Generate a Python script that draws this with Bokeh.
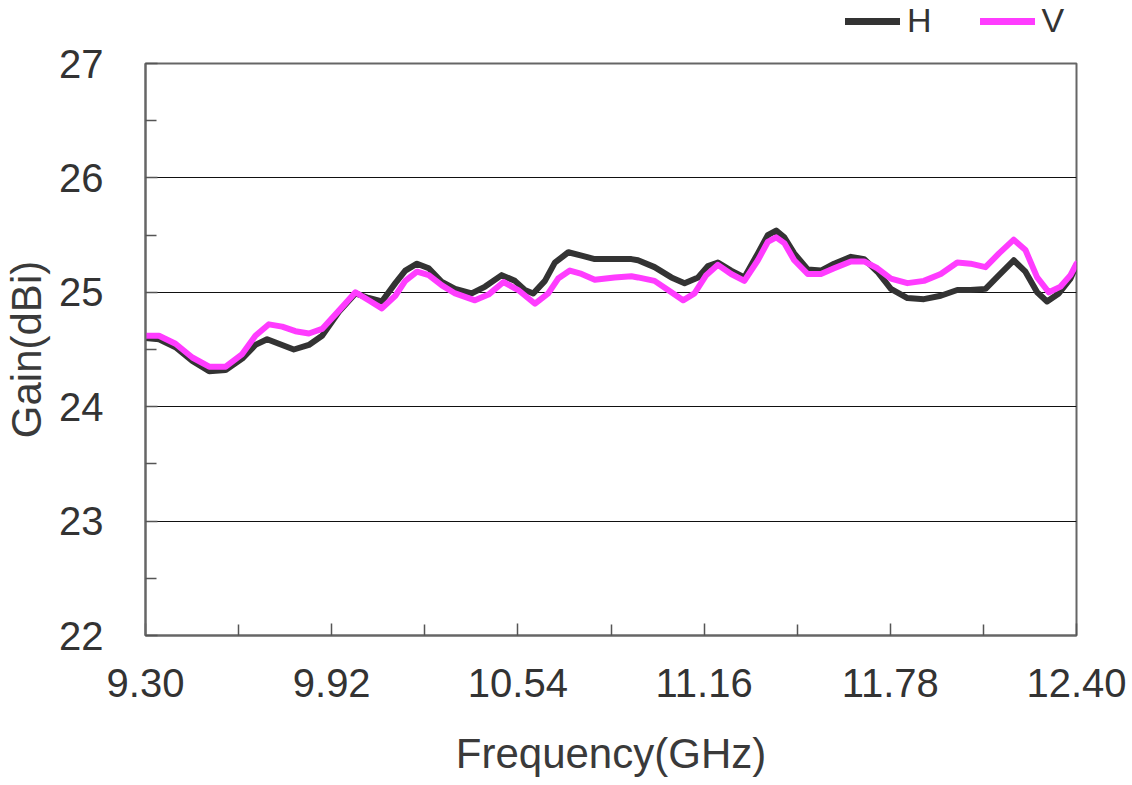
from bokeh.plotting import figure
from bokeh.models import FixedTicker, Legend, LegendItem, Range1d
from bokeh.layouts import column
from bokeh.embed import file_html
from bokeh.resources import INLINE

# ---- data ----
freq_h = [9.300, 9.345, 9.400, 9.456, 9.512, 9.567, 9.622, 9.666, 9.705, 9.744, 9.794, 9.844,
          9.888, 9.944, 9.999, 10.043, 10.087, 10.132, 10.165, 10.204, 10.243, 10.287, 10.331,
          10.386, 10.431, 10.486, 10.530, 10.563, 10.591, 10.630, 10.663, 10.708, 10.752,
          10.796, 10.862, 10.918, 10.940, 10.995, 11.051, 11.095, 11.140, 11.173, 11.206,
          11.250, 11.294, 11.339, 11.372, 11.400, 11.427, 11.460, 11.505, 11.549, 11.593,
          11.649, 11.693, 11.737, 11.782, 11.837, 11.892, 11.948, 12.003, 12.047, 12.097,
          12.142, 12.191, 12.230, 12.269, 12.302, 12.341, 12.380, 12.400]
gain_h = [24.60, 24.59, 24.52, 24.40, 24.31, 24.32, 24.42, 24.54, 24.59, 24.55, 24.50, 24.54,
          24.62, 24.83, 24.99, 24.95, 24.92, 25.08, 25.19, 25.25, 25.21, 25.09, 25.03,
          24.99, 25.05, 25.15, 25.10, 25.02, 24.99, 25.10, 25.26, 25.35, 25.32,
          25.29, 25.29, 25.29, 25.28, 25.22, 25.13, 25.08, 25.13, 25.23, 25.26,
          25.19, 25.13, 25.34, 25.50, 25.54, 25.48, 25.34, 25.20, 25.19, 25.25,
          25.31, 25.29, 25.18, 25.03, 24.95, 24.94, 24.97, 25.02, 25.02, 25.03,
          25.15, 25.28, 25.18, 25.00, 24.92, 24.99, 25.12, 25.24]

freq_v = [9.300, 9.345, 9.400, 9.456, 9.512, 9.567, 9.622, 9.666, 9.711, 9.755, 9.799, 9.844,
          9.888, 9.944, 9.999, 10.043, 10.087, 10.132, 10.165, 10.204, 10.243, 10.287, 10.331,
          10.397, 10.442, 10.492, 10.541, 10.597, 10.641, 10.674, 10.713, 10.752, 10.796,
          10.862, 10.918, 10.940, 10.995, 11.040, 11.090, 11.128, 11.167, 11.206, 11.250,
          11.294, 11.339, 11.372, 11.400, 11.427, 11.460, 11.505, 11.549, 11.593, 11.649,
          11.693, 11.737, 11.782, 11.837, 11.892, 11.948, 12.003, 12.047, 12.097, 12.142,
          12.191, 12.230, 12.269, 12.308, 12.347, 12.380, 12.400]
gain_v = [24.62, 24.62, 24.55, 24.43, 24.35, 24.35, 24.46, 24.62, 24.72, 24.70, 24.66, 24.64,
          24.68, 24.84, 25.00, 24.93, 24.86, 24.97, 25.10, 25.18, 25.15, 25.06, 24.99,
          24.93, 24.98, 25.09, 25.02, 24.90, 24.99, 25.12, 25.19, 25.16, 25.11,
          25.13, 25.14, 25.13, 25.10, 25.02, 24.93, 24.99, 25.15, 25.24, 25.16,
          25.10, 25.28, 25.44, 25.48, 25.43, 25.28, 25.16, 25.16, 25.21, 25.27,
          25.27, 25.21, 25.12, 25.08, 25.10, 25.16, 25.26, 25.25, 25.22, 25.34,
          25.46, 25.37, 25.13, 25.00, 25.05, 25.15, 25.25]

x_ticks = [9.30, 9.92, 10.54, 11.16, 11.78, 12.40]
x_minor = [9.61, 10.23, 10.85, 11.47, 12.09]
y_ticks = [22, 23, 24, 25, 26, 27]
y_minor = [22.5, 23.5, 24.5, 25.5, 26.5]
x_labels = {t: f"{t:.2f}" for t in x_ticks}
series_names = ["H", "V"]

FONT = "Liberation Sans"
H_COLOR = "#333333"
V_COLOR = "#ff3cff"
LEG_H = 40

p = figure(width=1132, height=785 - LEG_H, output_backend="svg", toolbar_location=None,
           x_range=(9.30, 12.40), y_range=(22, 27),
           min_border_left=143, min_border_right=56, min_border_top=63 - LEG_H,
           min_border_bottom=150)

p.background_fill_color = "white"
p.outline_line_color = "#666666"
p.outline_line_width = 2

line_kw = dict(line_width=6, line_join="round", line_cap="round")
p.line(freq_h, gain_h, line_color=H_COLOR, **line_kw)
p.line(freq_v, gain_v, line_color=V_COLOR, **line_kw)

# axes
p.xaxis.ticker = FixedTicker(ticks=x_ticks, minor_ticks=x_minor)
p.yaxis.ticker = FixedTicker(ticks=y_ticks, minor_ticks=y_minor)
p.xaxis.major_label_overrides = x_labels

for ax in (p.xaxis, p.yaxis):
    ax.axis_line_color = "#666666"
    ax.axis_line_width = 2
    ax.major_tick_line_color = "#555555"
    ax.minor_tick_line_color = "#555555"
    ax.major_tick_line_width = 1.5
    ax.minor_tick_line_width = 1.5
    ax.major_tick_in = 12
    ax.major_tick_out = 0
    ax.minor_tick_in = 11
    ax.minor_tick_out = 0
    ax.major_label_text_font = FONT
    ax.major_label_text_font_size = "40px"
    ax.major_label_text_color = "#333333"
    ax.axis_label_text_font = FONT
    ax.axis_label_text_font_size = "42px"
    ax.axis_label_text_font_style = "normal"
    ax.axis_label_text_color = "#3a3a3a"

p.xaxis.axis_label = "Frequency(GHz)"
p.yaxis.axis_label = "Gain(dBi)"
p.xaxis.major_label_standoff = 33
p.xaxis.axis_label_standoff = 30
p.yaxis.major_label_standoff = 42
p.yaxis.axis_label_standoff = 6

p.xgrid.grid_line_color = None
p.ygrid.grid_line_color = "#111111"
p.ygrid.grid_line_width = 1

# legend strip above the plot (its sample lines lie outside the strip's visible range)
pl = figure(width=1132, height=LEG_H, output_backend="svg", toolbar_location=None,
            x_axis_type=None, y_axis_type=None, x_range=Range1d(0, 1), y_range=Range1d(0, 1),
            min_border_left=0, min_border_right=0, min_border_top=0, min_border_bottom=0)
pl.outline_line_color = None
pl.grid.visible = False
lh = pl.line(x=[-10, -9], y=[-10, -9], line_color=H_COLOR, line_width=7, line_cap="round")
lv = pl.line(x=[-10, -9], y=[-10, -9], line_color=V_COLOR, line_width=7, line_cap="round")

# the strip's frame is aligned with the main frame (starts at x=143)
legend = Legend(items=[LegendItem(label=series_names[0], renderers=[lh]),
                       LegendItem(label=series_names[1], renderers=[lv])],
                orientation="horizontal", location=(700, 0))
legend.label_text_font = FONT
legend.label_text_font_size = "34px"
legend.label_text_color = "#333333"
legend.glyph_width = 55
legend.glyph_height = 30
legend.label_height = 30
legend.label_standoff = 7
legend.spacing = 48
legend.padding = 0
legend.margin = 0
legend.border_line_alpha = 0
legend.background_fill_alpha = 0
pl.add_layout(legend)

layout = column(pl, p, spacing=0)
open("out.html", "w").write(file_html(layout, INLINE))
